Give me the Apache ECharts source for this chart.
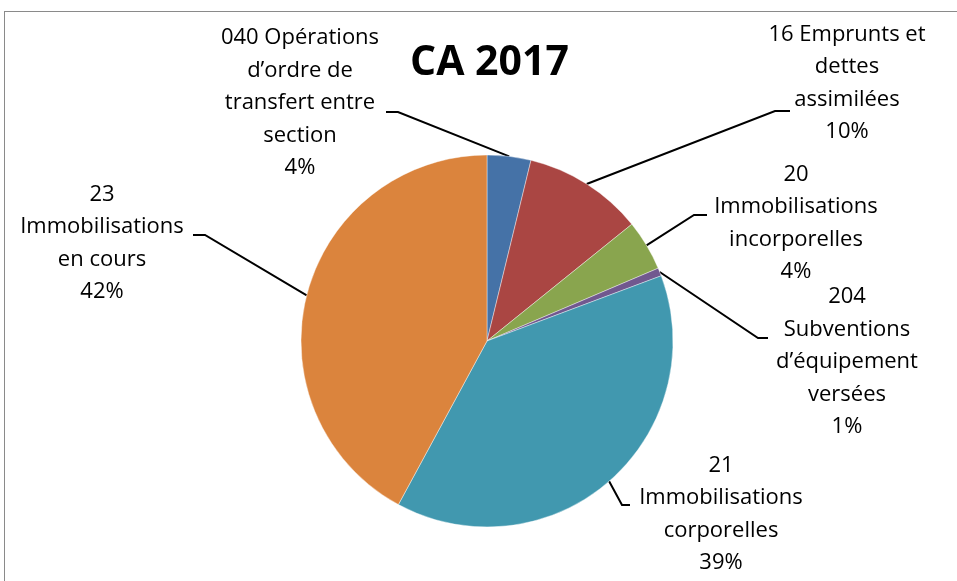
<!DOCTYPE html>
<html>
<head>
<meta charset="utf-8">
<script src="https://cdn.jsdelivr.net/npm/echarts@6/dist/echarts.min.js"></script>
<style>
  html, body { margin: 0; padding: 0; background: #fff; }
  #frame {
    position: absolute; left: 4px; top: 11px;
    width: 1000px; height: 700px;
    border: 1.5px solid #8a8a8a;
  }
  #chart { position: absolute; left: 0; top: 0; width: 957px; height: 581px; }
</style>
</head>
<body>
<div id="frame"></div>
<div id="chart"></div>
<script>
// données (parts en %)
var categories = [
  '040 Opérations\nd\u2019ordre de\ntransfert entre\nsection',
  '16 Emprunts et\ndettes\nassimilées',
  '20\nImmobilisations\nincorporelles',
  '204\nSubventions\nd\u2019équipement\nversées',
  '21\nImmobilisations\ncorporelles',
  '23\nImmobilisations\nen cours'
]
var values = [3.8, 10.4, 4.4, 0.7, 38.6, 42.1]
var colors = ['#4572A7', '#AA4643', '#89A54E', '#71588F', '#4198AF', '#DB843D']

// placement des étiquettes : [centreX, centreY, coudeX, coudeY, finX]
var labelPos = [
  [300, 103, 398, 112, 386],
  [847, 83, 775, 111, 790],
  [796, 223, 694, 215, 707],
  [847, 362, 758, 338, 768],
  [721, 514, 622, 505, 630],
  [102, 243, 205, 235, 193]
]

var center = [487, 341]
var radius = 186

// point du bord de la part, à l'angle médian
function edgePoint(i) {
  var total = values.reduce(function(a, b) { return a + b }, 0)
  var before = 0
  for (var k = 0; k < i; k++) before += values[k]
  var mid = (before + values[i] / 2) / total * Math.PI * 2
  return [center[0] + radius * Math.sin(mid), center[1] - radius * Math.cos(mid)]
}

var chart = echarts.init(document.getElementById('chart'))
chart.setOption({
  animation: false,
  title: {
    text: 'CA 2017',
    left: 405,
    top: 38,
    textStyle: { fontFamily: 'Open Sans', fontWeight: 'bold', fontSize: 41, color: '#000' }
  },
  series: [{
    type: 'pie',
    center: center,
    radius: radius,
    startAngle: 90,
    clockwise: true,
    percentPrecision: 0,
    data: categories.map(function(name, i) {
      return { name: name, value: values[i], itemStyle: { color: colors[i] } }
    }),
    itemStyle: { borderColor: '#fff', borderWidth: 0.4 },
    label: {
      show: true,
      formatter: '{b}\n{d}%',
      fontFamily: 'Open Sans',
      fontSize: 22,
      lineHeight: 32.5,
      color: '#000',
      align: 'center'
    },
    labelLine: {
      show: true,
      lineStyle: { color: '#000', width: 2 }
    },
    labelLayout: function(p) {
      var pos = labelPos[p.dataIndex]
      return {
        x: pos[0],
        y: pos[1],
        align: 'center',
        verticalAlign: 'middle',
        labelLinePoints: [edgePoint(p.dataIndex), [pos[2], pos[3]], [pos[4], pos[3]]]
      }
    }
  }]
})
</script>
</body>
</html>
